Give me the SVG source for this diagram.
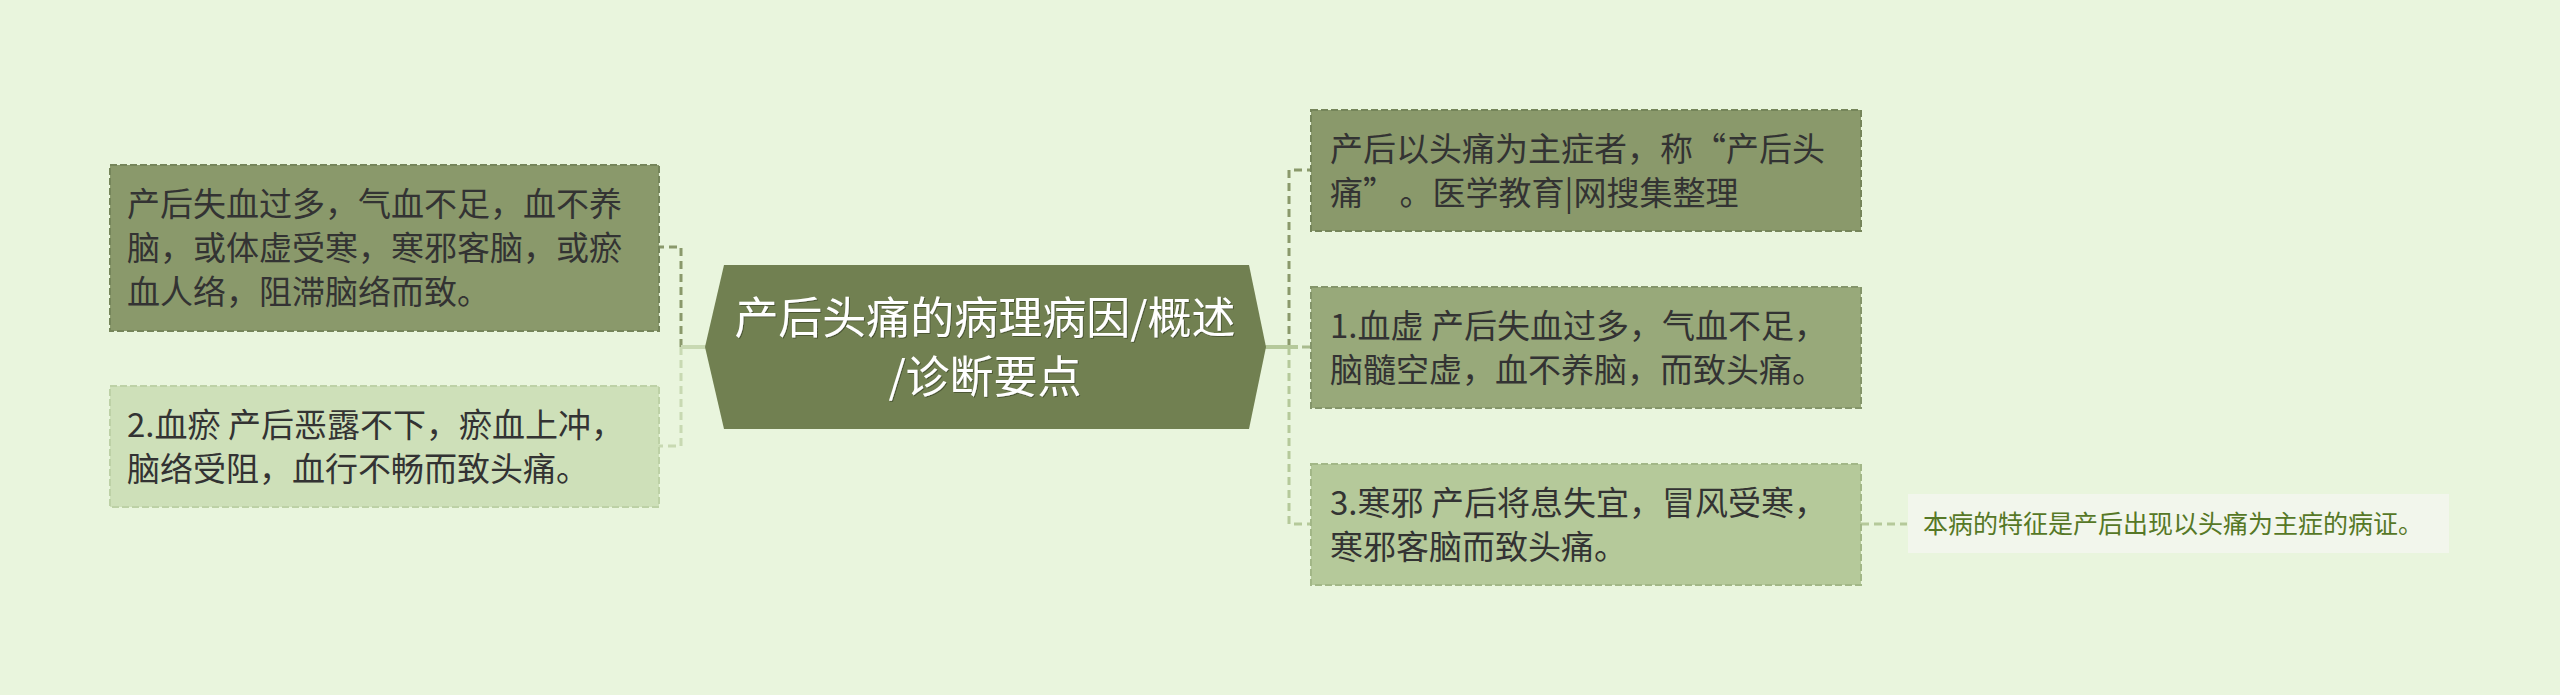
<svg xmlns="http://www.w3.org/2000/svg" width="2560" height="695" viewBox="0 0 2560 695">
<defs>
<style>
.bg{fill:#E9F5DD}
.t{font-family:"Noto Sans CJK SC","Noto Sans",sans-serif;font-size:33px;fill:#333333}
.ct{font-family:"Noto Sans CJK SC","Noto Sans",sans-serif;font-size:44px;fill:#FFFFFF;text-anchor:middle}
.nt{font-family:"Noto Sans CJK SC","Noto Sans",sans-serif;font-size:25px;fill:#567826}
.box{stroke-width:2;stroke-dasharray:7 3}
.c{fill:none;stroke-width:3;stroke-dasharray:8 5}
.s{fill:none;stroke-width:4}
</style>
<filter id="sh" x="-5%" y="-20%" width="110%" height="140%">
<feDropShadow dx="1" dy="1" stdDeviation="0.6" flood-color="#3a4428" flood-opacity="0.7"/>
</filter>
</defs>
<rect class="bg" x="0" y="0" width="2560" height="695"/>

<g id="connectors">
<path class="c" stroke="#8A996B" d="M681 347 L681 247 L659 247"/>
<path class="c" stroke="#C8D9B2" d="M681 347 L681 446 L659 446"/>
<path class="s" stroke="#C8D9B2" d="M681 347 L706 347"/>
<path class="c" stroke="#8A996B" d="M1289 347 L1289 170 L1311 170"/>
<path class="c" stroke="#A9BC8E" d="M1289 347 L1311 347"/>
<path class="c" stroke="#B5C99A" d="M1289 347 L1289 524 L1311 524"/>
<path class="s" stroke="#B5C99A" d="M1265 347 L1298 347"/>
<path class="c" stroke="#B5C99A" stroke-width="2" d="M1861 524 L1907 524"/>
</g>

<g id="center">
<polygon points="705,347 724,265 1249,265 1266,347 1249,429 724,429" fill="#718051"/>
<g filter="url(#sh)">
<text class="ct" x="985" y="334">产后头痛的病理病因/概述</text>
<text class="ct" x="985" y="393">/诊断要点</text>
</g>
</g>

<g id="left1">
<rect class="box" x="110" y="165" width="549" height="166" fill="#8A996B" stroke="#75855A"/>
<text class="t" x="127" y="216">产后失血过多，气血不足，血不养</text>
<text class="t" x="127" y="260">脑，或体虚受寒，寒邪客脑，或瘀</text>
<text class="t" x="127" y="304">血人络，阻滞脑络而致。</text>
</g>

<g id="left2">
<rect class="box" x="110" y="386" width="549" height="121" fill="#CEE0B9" stroke="#BDD1A6"/>
<text class="t" x="127" y="437">2.血瘀 产后恶露不下，瘀血上冲，</text>
<text class="t" x="127" y="481">脑络受阻，血行不畅而致头痛。</text>
</g>

<g id="right1">
<rect class="box" x="1311" y="110" width="550" height="121" fill="#8A996B" stroke="#75855A"/>
<text class="t" x="1330" y="161">产后以头痛为主症者，称“产后头</text>
<text class="t" x="1330" y="205">痛”<tspan dx="20">。</tspan>医学教育|网搜集整理</text>
</g>

<g id="right2">
<rect class="box" x="1311" y="287" width="550" height="121" fill="#98A97A" stroke="#84956A"/>
<text class="t" x="1330" y="338">1.血虚 产后失血过多，气血不足，</text>
<text class="t" x="1330" y="382">脑髓空虚，血不养脑，而致头痛。</text>
</g>

<g id="right3">
<rect class="box" x="1311" y="464" width="550" height="121" fill="#B5C99A" stroke="#A2B787"/>
<text class="t" x="1330" y="515">3.寒邪 产后将息失宜，冒风受寒，</text>
<text class="t" x="1330" y="559">寒邪客脑而致头痛。</text>
</g>

<g id="note">
<rect x="1908" y="494" width="541" height="59" fill="#F2F6EC"/>
<text class="nt" x="1923" y="533">本病的特征是产后出现以头痛为主症的病证。</text>
</g>
</svg>
